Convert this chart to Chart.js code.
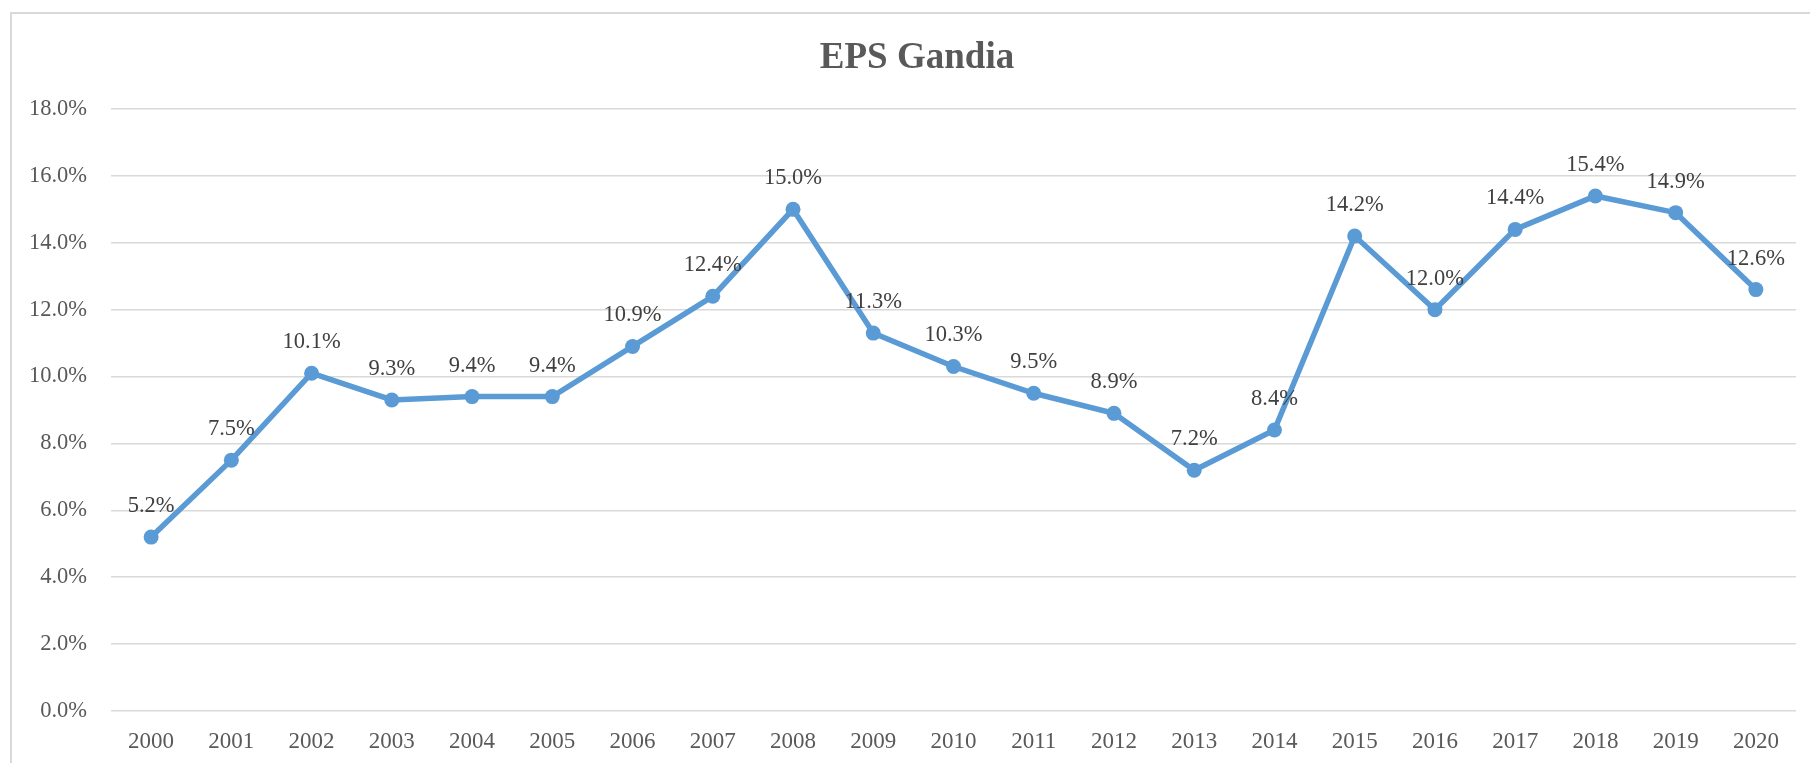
<!DOCTYPE html>
<html>
<head>
<meta charset="utf-8">
<title>EPS Gandia</title>
<script src="https://cdn.jsdelivr.net/npm/chart.js@4.4.1/dist/chart.umd.min.js"></script>
<style>
  html, body { margin: 0; padding: 0; background: #fff; overflow: hidden; }
  #frame {
    position: absolute; left: 10px; top: 12px;
    width: 1840px; height: 800px;
    border: 2px solid #d9d9d9;
  }
  #wrap { position: absolute; left: 0; top: 0; width: 1810px; height: 763px; }
</style>
</head>
<body>
<div id="frame"></div>
<div id="wrap"><canvas id="chart"></canvas></div>
<script>
const years = ['2000','2001','2002','2003','2004','2005','2006','2007','2008','2009','2010',
  '2011','2012','2013','2014','2015','2016','2017','2018','2019','2020'];
const epsValues = [5.2, 7.5, 10.1, 9.3, 9.4, 9.4, 10.9, 12.4, 15.0, 11.3, 10.3,
  9.5, 8.9, 7.2, 8.4, 14.2, 12.0, 14.4, 15.4, 14.9, 12.6];
const yTicks = [0, 2, 4, 6, 8, 10, 12, 14, 16, 18];
const chartTitle = 'EPS Gandia';

const serif = "'Times New Roman', 'Liberation Serif', serif";
const pct = v => Number(v).toFixed(1) + '%';

// title centred on the outer frame, not the canvas
const frameTitle = {
  id: 'frameTitle',
  afterDraw(chart) {
    const ctx = chart.ctx;
    ctx.save();
    ctx.font = 'bold 37px ' + serif;
    ctx.fillStyle = '#595959';
    ctx.textAlign = 'center';
    ctx.textBaseline = 'middle';
    ctx.fillText(chartTitle, 917, 58);
    ctx.restore();
  }
};

// value labels above each point
const pointLabels = {
  id: 'pointLabels',
  afterDatasetsDraw(chart) {
    const ctx = chart.ctx;
    const meta = chart.getDatasetMeta(0);
    ctx.save();
    ctx.font = '22.5px ' + serif;
    ctx.fillStyle = '#404040';
    ctx.textAlign = 'center';
    ctx.textBaseline = 'middle';
    meta.data.forEach((pt, i) => {
      ctx.fillText(pct(epsValues[i]), pt.x, pt.y - 31);
    });
    ctx.restore();
  }
};

new Chart(document.getElementById('chart'), {
  type: 'line',
  data: {
    labels: years,
    datasets: [{
      label: chartTitle,
      data: epsValues,
      borderColor: '#5B9BD5',
      backgroundColor: '#5B9BD5',
      borderWidth: 5.5,
      pointRadius: 7.5,
      pointBorderWidth: 0,
      pointBackgroundColor: '#5B9BD5',
      tension: 0
    }]
  },
  options: {
    responsive: true,
    maintainAspectRatio: false,
    animation: false,
    layout: { padding: { left: 0, right: 14, top: 109, bottom: 0 } },
    plugins: {
      legend: { display: false },
      tooltip: { enabled: false },
      title: { display: false }
    },
    scales: {
      x: {
        offset: true,
        grid: { display: false },
        border: { display: false },
        ticks: { color: '#595959', font: { family: serif, size: 23 }, padding: 9, maxRotation: 0 },
        afterFit: s => { s.height = 52; }
      },
      y: {
        min: 0,
        max: 18,
        afterBuildTicks: s => { s.ticks = yTicks.map(v => ({ value: v })); },
        grid: { color: '#d9d9d9', lineWidth: 1.5, drawTicks: false },
        border: { display: false },
        ticks: { color: '#595959', font: { family: serif, size: 22.5 }, padding: 24, callback: v => pct(v) },
        afterFit: s => { s.width = 111; }
      }
    }
  },
  plugins: [pointLabels, frameTitle]
});
</script>
</body>
</html>
